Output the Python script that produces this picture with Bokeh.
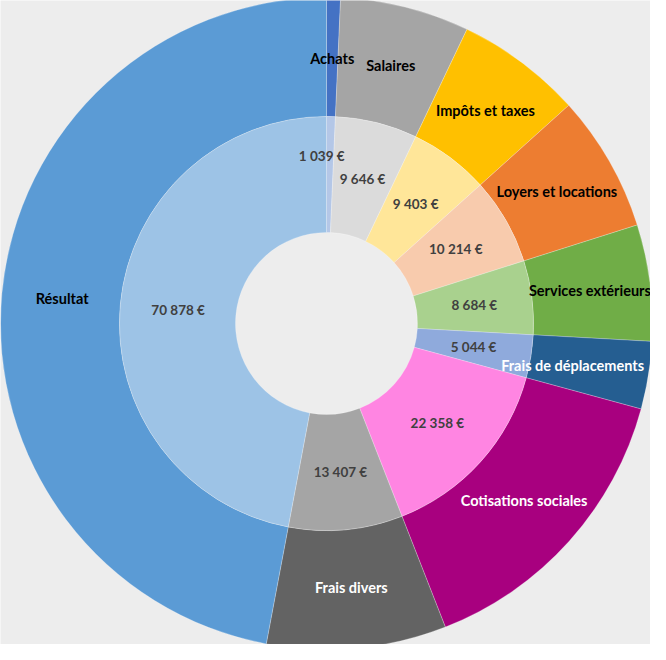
import math
from bokeh.plotting import figure
from bokeh.models import ColumnDataSource, Range1d
from bokeh.core.properties import value
from bokeh.embed import file_html
from bokeh.resources import INLINE

# ---- data ----
categories = ["Achats", "Salaires", "Impôts et taxes", "Loyers et locations",
              "Services extérieurs", "Frais de déplacements", "Cotisations sociales",
              "Frais divers", "Résultat"]
amounts = [1039, 9646, 9403, 10214, 8684, 5044, 22358, 13407, 70878]
value_labels = ["1 039 €", "9 646 €", "9 403 €", "10 214 €", "8 684 €",
                "5 044 €", "22 358 €", "13 407 €", "70 878 €"]

# ---- styles ----
outer_colors = ["#4472c4", "#a5a5a5", "#ffc000", "#ed7d31", "#70ad47",
                "#255e91", "#a8007f", "#636363", "#5b9bd5"]
inner_colors = ["#b4c7e7", "#dbdbdb", "#ffe699", "#f8cbad", "#a9d18e",
                "#8faadc", "#ff85e2", "#a5a5a5", "#9dc3e6"]
outer_text_colors = ["#000000", "#000000", "#000000", "#000000", "#000000",
                     "#ffffff", "#ffffff", "#ffffff", "#000000"]
BG = "#ededed"

W, H = 650, 644
CX, CY = 326, 323  # centre in pixels from top-left of figure
R_OUT, R_MID, R_HOLE = 326, 207, 91

total = float(sum(amounts))
starts, ends, mids = [], [], []
acc = 0.0
for v in amounts:
    f0 = acc / total
    acc += v
    f1 = acc / total
    starts.append(math.pi / 2 - 2 * math.pi * f0)
    ends.append(math.pi / 2 - 2 * math.pi * f1)
    mids.append(math.pi / 2 - 2 * math.pi * (f0 + f1) / 2)

r_out_lab = (R_OUT + R_MID) / 2 - 1
r_in_lab = (R_MID + R_HOLE) / 2
ox = [r_out_lab * math.cos(a) for a in mids]
oy = [r_out_lab * math.sin(a) for a in mids]
ix = [r_in_lab * math.cos(a) for a in mids]
iy = [r_in_lab * math.sin(a) for a in mids]

src = ColumnDataSource(dict(start=starts, end=ends,
                            oc=outer_colors, ic=inner_colors))

p = figure(width=W, height=H, output_backend="svg", toolbar_location=None,
           x_range=Range1d(-CX, W - CX), y_range=Range1d(-(H - CY), CY),
           min_border=0)
p.axis.visible = False
p.grid.visible = False
p.outline_line_color = None
p.background_fill_color = BG
p.border_fill_color = BG

p.annular_wedge(x=0, y=0, inner_radius=R_MID, outer_radius=R_OUT,
                start_angle="start", end_angle="end", direction="clock",
                fill_color="oc", line_color="white", line_alpha=0.35,
                line_width=0.7, source=src)
p.annular_wedge(x=0, y=0, inner_radius=R_HOLE, outer_radius=R_MID,
                start_angle="start", end_angle="end", direction="clock",
                fill_color="ic", line_color="white", line_alpha=0.35,
                line_width=0.7, source=src)

# outer category labels (the long one near the right edge pulled inside)
edge_idx = categories.index("Frais de déplacements")
rest_idx = [i for i in range(len(categories)) if i != edge_idx]
src_out = ColumnDataSource(dict(x=[ox[i] for i in rest_idx], y=[oy[i] for i in rest_idx],
                                t=[categories[i] for i in rest_idx],
                                c=[outer_text_colors[i] for i in rest_idx]))
src_edge = ColumnDataSource(dict(x=[ox[edge_idx]], y=[oy[edge_idx]],
                                 t=[categories[edge_idx]], c=[outer_text_colors[edge_idx]]))
for s, xo in ((src_out, 0), (src_edge, -16)):
    p.text(x="x", y="y", text="t", text_color="c", source=s, x_offset=xo,
           text_font=value("Lato"), text_font_style="bold", text_font_size="14.5px",
           text_align="center", text_baseline="middle")

# inner value labels (first one nudged outward like the original)
src_rest = ColumnDataSource(dict(x=ix[1:], y=iy[1:], t=value_labels[1:]))
src_first = ColumnDataSource(dict(x=ix[:1], y=iy[:1], t=value_labels[:1]))
for s, xo, yo in ((src_rest, 0, 0), (src_first, -8, -19)):
    p.text(x="x", y="y", text="t", source=s, x_offset=xo, y_offset=yo,
           text_color="#404040", text_font=value("Lato"),
           text_font_style="bold", text_font_size="13.5px",
           text_align="center", text_baseline="middle")

open("out.html", "w").write(file_html(p, INLINE))
